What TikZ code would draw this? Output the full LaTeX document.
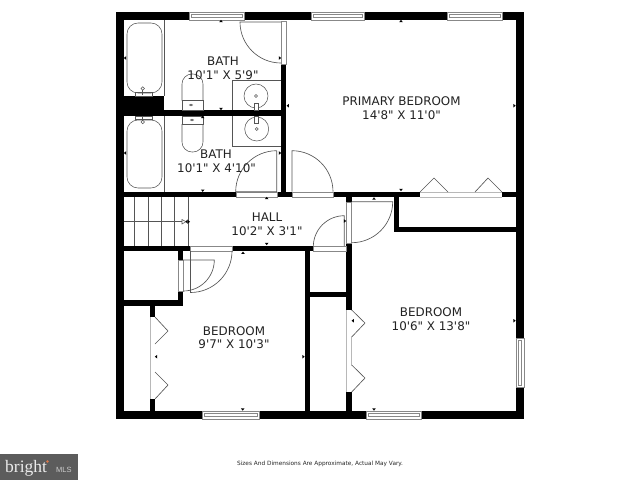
\documentclass[tikz,border=0pt]{standalone}
\usepackage{fontspec}
\setmainfont{DejaVu Sans}
\newfontfamily\labelfont{DejaVu Sans}
\newfontfamily\logofont{Liberation Serif}
\newfontfamily\logosans{Liberation Sans}
\definecolor{fixline}{HTML}{555555}
\definecolor{winline}{HTML}{888888}
\definecolor{logogrey}{HTML}{5C5C5C}
\definecolor{logodot}{HTML}{D9764A}
\definecolor{labeltext}{HTML}{222222}
\tikzset{
  wallfill/.style={fill=black,draw=none},
  fixture/.style={draw=fixline,line width=0.55pt,fill=none},
  doorleaf/.style={draw=fixline,line width=0.65pt},
  openrect/.style={draw=winline,line width=0.6pt,fill=white},
  winrect/.style={draw=winline,line width=0.7pt,fill=white},
  roomlabel/.style={font=\labelfont\fontsize{11.9}{13}\selectfont,text=labeltext,inner sep=0pt,align=center},
  tick/.style={fill=black,draw=none}
}
\newcommand{\wallbox}[4]{\fill[wallfill] (#1,#2) rectangle (#3,#4);}
\newcommand{\winH}[4]{\draw[winrect] (#1,#3) rectangle (#2,#4);
  \draw[winrect] (#1+2,#3+2.4) rectangle (#2-2,#4-2.4);}
\newcommand{\winV}[4]{\draw[winrect] (#1,#3) rectangle (#2,#4);
  \draw[winrect] (#1+2.4,#3+2) rectangle (#2-2.4,#4-2);}
\newcommand{\tickU}[2]{\fill[tick] (#1-1.8,#2+1.2) -- (#1+1.8,#2+1.2) -- (#1,#2-1.2) -- cycle;}
\newcommand{\tickD}[2]{\fill[tick] (#1-1.8,#2-1.2) -- (#1+1.8,#2-1.2) -- (#1,#2+1.2) -- cycle;}
\newcommand{\tickL}[2]{\fill[tick] (#1+1.2,#2-1.8) -- (#1+1.2,#2+1.8) -- (#1-1.2,#2) -- cycle;}
\newcommand{\tickR}[2]{\fill[tick] (#1-1.2,#2-1.8) -- (#1-1.2,#2+1.8) -- (#1+1.2,#2) -- cycle;}
\begin{document}
\begin{tikzpicture}[x=1pt,y=-1pt]
\useasboundingbox (0,0) rectangle (640,480);
\fill[white] (0,0) rectangle (640,480);
% outer walls
\wallbox{116}{12}{524}{20}
\wallbox{116}{411}{524}{419}
\wallbox{116}{12}{124}{419}
\wallbox{516}{12}{524}{419}
% bath walls
\wallbox{124}{96}{164}{116}
\wallbox{124}{110}{281}{116}
\wallbox{281}{64}{286}{197}
\wallbox{124}{192}{420}{197}
\wallbox{502}{192}{516}{197}
\wallbox{277}{192}{292}{197}
% primary closet
\wallbox{394}{192}{399}{232}
\wallbox{394}{227}{516}{232}
% hall bottom
\wallbox{124}{246}{313}{251}
\wallbox{346}{197}{351.5}{202}
\wallbox{346}{243}{351.5}{310}
\wallbox{346}{392}{351.5}{411}
\wallbox{305}{246}{310}{411}
\wallbox{305}{292}{351}{297}
\wallbox{178}{251}{183}{305}
\wallbox{124}{300}{183}{305.5}
\wallbox{149.5}{305}{155}{317}
\wallbox{149.5}{399}{155}{411}
% openings
\draw[openrect] (281,21) rectangle (286,64);
\draw[openrect] (236,192) rectangle (277,197);
\draw[openrect] (292,192) rectangle (333,197);
\draw[openrect] (346,202) rectangle (351.5,243);
\draw[openrect] (190,246) rectangle (232,251);
\draw[openrect] (313,246) rectangle (346,251);
\draw[openrect] (178,260) rectangle (183,291);
\fill[white] (420,191.5) rectangle (502,197.5);
\fill[white] (150,317) rectangle (155,399);
\fill[white] (346,310) rectangle (351.5,392);
\draw[winline!60,line width=0.5pt] (420,192) -- (502,192) (420,197) -- (502,197);
\draw[winline!60,line width=0.5pt] (150,317) -- (150,399);
\draw[winline!60,line width=0.5pt] (351.5,337) -- (351.5,365) (346,310) -- (346,392);
% windows
\winH{189}{244}{12}{20}
\winH{311}{364}{12}{20}
\winH{447}{502}{12}{20}
\winH{202}{259}{411}{419}
\winH{366}{421}{411}{419}
\winV{516}{524}{338}{387}
% doors
\draw[doorleaf] (281,22) -- (240,22) arc[start angle=180,end angle=90,radius=41];
\draw[doorleaf] (276.7,150.7) -- (276.7,191.7) -- (235.7,191.7) arc[start angle=180,end angle=270,radius=41];
\draw[doorleaf] (292,191.7) -- (292,150.7) arc[start angle=270,end angle=360,radius=41];
\draw[doorleaf] (351.7,201.7) -- (392.7,201.7) arc[start angle=0,end angle=90,radius=41];
\draw[doorleaf] (344.3,246) -- (344.3,215.7) arc[start angle=270,end angle=180,radius=31];
\draw[doorleaf] (190.5,251) -- (190.5,292.5) arc[start angle=90,end angle=0,radius=41.5];
\draw[doorleaf] (183,260) -- (214.3,260) arc[start angle=0,end angle=90,radius=31];
% closet bifolds
\draw[doorleaf] (420,192) -- (434,178) -- (448,192);
\draw[doorleaf] (475,192) -- (488,178) -- (502,192);
\draw[doorleaf] (155,317) -- (168,331) -- (155,344);
\draw[doorleaf] (155,372) -- (168,385) -- (155,399);
\draw[doorleaf] (351.7,310) -- (365,323) -- (351.7,337);
\draw[doorleaf] (351.7,365) -- (365,378) -- (351.7,392);
% tubs
\draw[fixture] (164,20) -- (164,96) (164,116) -- (164,192);
\draw[fixture,rounded corners=11pt] (127,23) rectangle (162,93);
\draw[fixture,rounded corners=11pt] (127,120) rectangle (162,188);
\draw[fixture] (135,92) rectangle (152,96) (135,116) rectangle (152,119);
\draw[fixture] (142.7,88.5) circle[radius=1.8] (142.7,122) circle[radius=1.8];
\draw[fixture] (142.7,90) -- (142.7,95) (142.7,116) -- (142.7,120.5);
% toilets
\draw[fixture,rounded corners=10pt] (182,100.7) -- (182,74) -- (203,74) -- (203,100.7);
\draw[fixture] (182,100.7) rectangle (203,110);
\draw[fixture] (191,105) ellipse[x radius=1.6,y radius=0.9];
\draw[fixture] (182,116) rectangle (203,124);
\draw[fixture] (192,120) ellipse[x radius=1.6,y radius=0.9];
\draw[fixture,rounded corners=10pt] (182,124) -- (182,152) -- (203,152) -- (203,124);
% vanities
\draw[fixture] (281,80) -- (232,80) -- (232,110);
\draw[fixture] (232,116) -- (232,146) -- (281,146);
\draw[fixture] (256,96) circle[radius=12] (256,96) circle[radius=1.5];
\draw[fixture] (256.7,129) circle[radius=12] (256.7,129) circle[radius=1.5];
\draw[fixture,fill=white] (254.5,103) rectangle (258.2,110);
\draw[fixture,fill=white] (254.5,116) rectangle (258.2,123);
% stairs
\draw[fixture] (134,197) -- (134,246) (148,197) -- (148,246) (161,197) -- (161,246) (174,197) -- (174,246) (188,197) -- (188,246);
\draw[fixture] (124,221.7) -- (182,221.7);
\draw[fixture] (182,219.5) -- (182,224) -- (186,221.7) -- cycle;
\fill[tick] (187.5,219.7) -- (187.5,223.7) -- (185.5,221.7) -- cycle;
\fill[tick] (187.5,219.7) -- (187.5,223.7) -- (190,221.7) -- cycle;
% dimension ticks
\tickU{221}{21}\tickL{125}{58}\tickD{221}{109}\tickR{280}{58}\tickL{287.7}{105.7}
\tickU{202.7}{117}\tickL{125}{153}\tickR{280}{153}\tickD{202.7}{190.7}
\tickU{266.7}{198}\tickD{266.7}{244}\tickR{345}{221}
\tickU{401}{21}\tickR{514.5}{105.7}\tickD{401}{190}\tickU{374}{198.5}
\tickU{243}{252.7}\tickL{156}{356.7}\tickR{303.5}{356.7}\tickD{242.7}{409.5}
\tickL{352.7}{320.7}\tickR{514.5}{320.7}\tickD{374}{409.5}
% labels
\node[roomlabel] (bathOne) at (223,61) {BATH};
\node[roomlabel] (bathOneDim) at (223,75) {10'1" X 5'9"};
\node[roomlabel] (bathTwo) at (216,154) {BATH};
\node[roomlabel] (bathTwoDim) at (216.5,168) {10'1" X 4'10"};
\node[roomlabel] (hallName) at (267,217) {HALL};
\node[roomlabel] (hallDim) at (267,231) {10'2" X 3'1"};
\node[roomlabel] (primaryName) at (401.5,101.5) {PRIMARY BEDROOM};
\node[roomlabel] (primaryDim) at (401.5,115.5) {14'8" X 11'0"};
\node[roomlabel] (bedOne) at (234,331) {BEDROOM};
\node[roomlabel] (bedOneDim) at (234,344.5) {9'7" X 10'3"};
\node[roomlabel] (bedTwo) at (431,312) {BEDROOM};
\node[roomlabel] (bedTwoDim) at (431,326) {10'6" X 13'8"};
\node[inner sep=0pt,font=\labelfont\fontsize{5.8}{7}\selectfont,text=black!85] (note) at (320,464) {Sizes And Dimensions Are Approximate, Actual May Vary.};
% logo
\fill[logogrey] (0,454) rectangle (78,480);
\node[inner sep=0pt,anchor=base west,text=white!92!black,font=\logofont\fontsize{17.5}{18}\selectfont] (logoA) at (5,472) {bright};
\node[inner sep=0pt,anchor=base west,text=white!80!black,font=\logosans\fontsize{7.5}{8}\selectfont] (logoB) at (56,472.5) {MLS};
\fill[logodot] (47.5,461.5) circle[radius=1.4];
\end{tikzpicture}
\end{document}
